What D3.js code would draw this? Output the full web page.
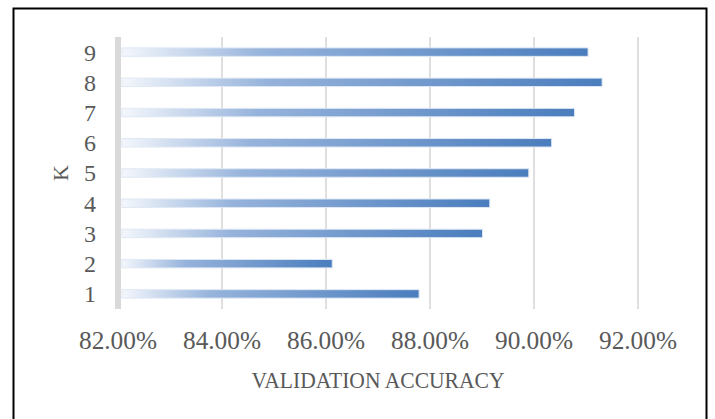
<!DOCTYPE html>
<html lang="en">
<head>
    <meta charset="UTF-8">
    <title>Validation accuracy by K</title>
    <style>
        body { margin: 0; background: #fff; }
        .tick-label { font-family: "Liberation Serif", "DejaVu Serif", serif; fill: #595959; }
        .grid { stroke: #d4d4d4; stroke-width: 1.5; }
    </style>
</head>
<body>
    <div id="chart"></div>

    <script src="https://d3js.org/d3.v7.min.js"></script>
    <script>
        // data
        const kValues = ["1", "2", "3", "4", "5", "6", "7", "8", "9"];
        const accuracy = [0.8779, 0.8612, 0.8901, 0.8915, 0.8990, 0.9034, 0.9078, 0.9131, 0.9104];
        const xTicks = [0.82, 0.84, 0.86, 0.88, 0.90, 0.92];

        const width = 715;
        const height = 419;

        const svg = d3.select("#chart")
            .append("svg")
            .attr("width", width)
            .attr("height", height);

        // frame around the figure
        svg.append("rect")
            .attr("x", 13.5)
            .attr("y", 8.5)
            .attr("width", 693)
            .attr("height", 430)
            .attr("fill", "none")
            .attr("stroke", "#000")
            .attr("stroke-width", 2);

        const x = d3.scaleLinear()
            .domain([0.82, 0.92])
            .range([118, 638]);

        const y = d3.scaleBand()
            .domain(kValues)
            .range([309, 37])
            .paddingInner(0.72)
            .paddingOuter(0.36);

        const defs = svg.append("defs");
        const grad = defs.append("linearGradient")
            .attr("id", "barGrad")
            .attr("x1", "0%").attr("x2", "100%")
            .attr("y1", "0%").attr("y2", "0%");
        grad.append("stop").attr("offset", "0%").attr("stop-color", "#f4f7fc");
        grad.append("stop").attr("offset", "30%").attr("stop-color", "#96b3db");
        grad.append("stop").attr("offset", "100%").attr("stop-color", "#4a7dbd");

        // vertical gridlines
        svg.selectAll(".grid")
            .data(xTicks.slice(1))
            .enter()
            .append("line")
            .attr("class", "grid")
            .attr("x1", d => x(d))
            .attr("x2", d => x(d))
            .attr("y1", 37)
            .attr("y2", 309);

        // thick category axis line
        svg.append("rect")
            .attr("x", x(0.82) - 3)
            .attr("y", 37)
            .attr("width", 6)
            .attr("height", 272)
            .attr("fill", "#d9d9d9");

        const data = kValues.map((k, i) => ({ k: k, v: accuracy[i] }));

        svg.selectAll(".bar")
            .data(data)
            .enter()
            .append("rect")
            .attr("class", "bar")
            .attr("x", x(0.82) + 4)
            .attr("y", d => y(d.k))
            .attr("width", d => x(d.v) - x(0.82) - 4)
            .attr("height", y.bandwidth())
            .attr("fill", "url(#barGrad)")
            .attr("stroke", "#dfe8f4")
            .attr("stroke-width", 1);

        // y labels
        svg.selectAll(".ylab")
            .data(kValues)
            .enter()
            .append("text")
            .attr("class", "tick-label")
            .attr("x", 96)
            .attr("y", d => y(d) + y.bandwidth() / 2)
            .attr("dy", "0.35em")
            .attr("text-anchor", "end")
            .attr("font-size", 24)
            .text(d => d);

        // x labels (condensed to match the original's narrow serif)
        svg.selectAll(".xlab")
            .data(xTicks)
            .enter()
            .append("text")
            .attr("class", "tick-label")
            .attr("x", d => x(d))
            .attr("y", 349)
            .attr("text-anchor", "middle")
            .attr("font-size", 26)
            .attr("textLength", 78)
            .attr("lengthAdjust", "spacingAndGlyphs")
            .text(d => d3.format(".2%")(d));

        // axis titles
        svg.append("text")
            .attr("class", "tick-label")
            .attr("x", 378)
            .attr("y", 388)
            .attr("text-anchor", "middle")
            .attr("font-size", 24)
            .attr("textLength", 253)
            .attr("lengthAdjust", "spacingAndGlyphs")
            .text("VALIDATION ACCURACY");

        svg.append("text")
            .attr("class", "tick-label")
            .attr("transform", "translate(68,173) rotate(-90)")
            .attr("text-anchor", "middle")
            .attr("font-size", 22)
            .text("K");
    </script>
</body>
</html>
